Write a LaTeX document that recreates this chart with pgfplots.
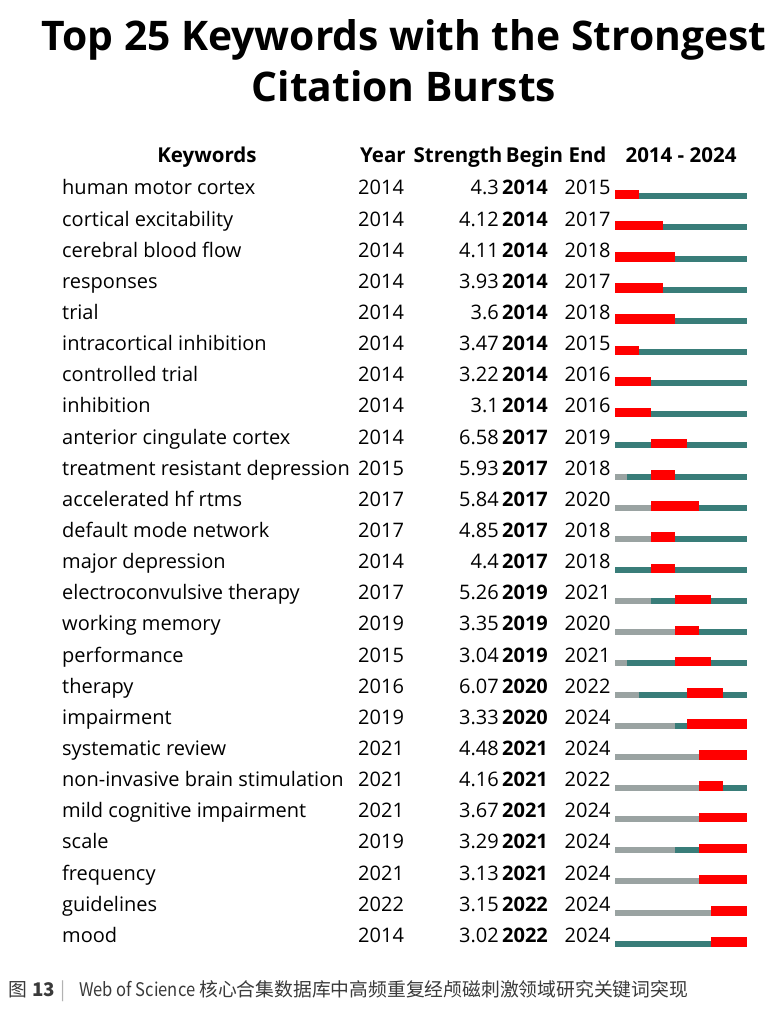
\documentclass[border=0pt]{standalone}
\usepackage{fontspec}
\setmainfont{Open Sans}
\newfontfamily\cjk{Noto Sans CJK SC}
\newfontfamily\cjknarrow[FakeStretch=0.88]{Noto Sans CJK SC}
\usepackage{pgfplots}
\usepackage{pgfplotstable}
\pgfplotsset{compat=1.18}

\definecolor{burstred}{HTML}{FF0000}
\definecolor{bteal}{HTML}{397D79}
\definecolor{bgray}{HTML}{9AA3A2}
\definecolor{captxt}{HTML}{3A3A3A}

% keyword, first year, burst strength, burst begin, burst end
\pgfplotstableread[col sep=comma]{
kw,year,strength,begin,end
human motor cortex,2014,4.3,2014,2015
cortical excitability,2014,4.12,2014,2017
cerebral blood flow,2014,4.11,2014,2018
responses,2014,3.93,2014,2017
trial,2014,3.6,2014,2018
intracortical inhibition,2014,3.47,2014,2015
controlled trial,2014,3.22,2014,2016
inhibition,2014,3.1,2014,2016
anterior cingulate cortex,2014,6.58,2017,2019
treatment resistant depression,2015,5.93,2017,2018
accelerated hf rtms,2017,5.84,2017,2020
default mode network,2017,4.85,2017,2018
major depression,2014,4.4,2017,2018
electroconvulsive therapy,2017,5.26,2019,2021
working memory,2019,3.35,2019,2020
performance,2015,3.04,2019,2021
therapy,2016,6.07,2020,2022
impairment,2019,3.33,2020,2024
systematic review,2021,4.48,2021,2024
non-invasive brain stimulation,2021,4.16,2021,2022
mild cognitive impairment,2021,3.67,2021,2024
scale,2019,3.29,2021,2024
frequency,2021,3.13,2021,2024
guidelines,2022,3.15,2022,2024
mood,2014,3.02,2022,2024
}\bursts

\pgfplotsset{
  coltext/.style={draw=none, mark=none, nodes near coords,
    point meta=explicit symbolic,
    every node near coord/.append style={inner sep=0pt, text=black,
      font=\fontsize{20}{24}\selectfont, yshift=1.3pt, #1}},
}

\begin{document}
\begin{tikzpicture}
% page frame in pixel units
\begin{axis}[at={(0,0)}, anchor=south west, width=779pt, height=1016pt,
  scale only axis, xmin=0, xmax=779, ymin=0, ymax=1016, y dir=reverse,
  hide axis, clip=false]
\fill[white] (axis cs:0,0) rectangle (axis cs:779,1016);
\node[anchor=base, font=\fontsize{40.8}{48}\selectfont\bfseries] at (axis cs:404,50.7)
  {Top 25 Keywords with the Strongest};
\node[anchor=base, font=\fontsize{40.8}{48}\selectfont\bfseries] at (axis cs:404,101.7)
  {Citation Bursts};
\begin{scope}[every node/.style={anchor=base west, inner sep=0pt, text=captxt}]
\node[font=\fontsize{18.8}{22}\selectfont\cjk] at (axis cs:8,996) {图};
\node[font=\fontsize{18.8}{22}\selectfont\cjk\bfseries] at (axis cs:32,996) {13};
\node[anchor=base, text=gray!60, font=\fontsize{18.8}{22}\selectfont\cjk] at (axis cs:63,996) {|};
\node[font=\fontsize{18.8}{22}\selectfont\cjknarrow] at (axis cs:79,996) {Web of Science};
\node[font=\fontsize{18.8}{22}\selectfont\cjk] at (axis cs:199,996)
  {核心合集数据库中高频重复经颅磁刺激领域研究关键词突现};
\end{scope}
\end{axis}

% burst bars and table columns
\begin{axis}[at={(615pt,819.7pt)}, anchor=north west, width=132.3pt, height=747.4pt,
  scale only axis, xmin=2014, xmax=2025, ymin=1, ymax=25, y dir=reverse,
  hide axis, clip=false]
\addplot[bteal, line width=6pt, quiver={u=11, v=0,
    every arrow/.append style={-, line width=6pt, line cap=butt}}]
  table[x expr=2014, y expr=\coordindex+1] {\bursts};
\addplot[bgray, line width=6pt, quiver={u=\thisrow{year}-2014, v=0,
    every arrow/.append style={-, line width=6pt, line cap=butt}}]
  table[x expr=2014, y expr=\coordindex+1] {\bursts};
\addplot[burstred, line width=9.5pt, quiver={u=\thisrow{end}+1-\thisrow{begin}, v=0,
    every arrow/.append style={-, line width=9.5pt, line cap=butt}}]
  table[x=begin, y expr=\coordindex+1-0.0562] {\bursts};

\addplot[coltext={anchor=base west, xshift=-553pt}]
  table[x expr=2014, y expr=\coordindex+1, meta=kw] {\bursts};
\addplot[coltext={anchor=base west, xshift=-257pt}]
  table[x expr=2014, y expr=\coordindex+1, meta=year] {\bursts};
\addplot[coltext={anchor=base east, xshift=-116pt}]
  table[x expr=2014, y expr=\coordindex+1, meta=strength] {\bursts};
\addplot[coltext={anchor=base west, xshift=-113pt}, nodes near coords={\textbf{\pgfplotspointmeta}}]
  table[x expr=2014, y expr=\coordindex+1, meta=begin] {\bursts};
\addplot[coltext={anchor=base west, xshift=-50.5pt}]
  table[x expr=2014, y expr=\coordindex+1, meta=end] {\bursts};

\begin{scope}[every node/.style={inner sep=0pt, font=\fontsize{20.5}{24}\selectfont\bfseries, anchor=base, yshift=2.9pt}]
\node[xshift=-408pt] at (axis cs:2014,0) {Keywords};
\node[anchor=base west, xshift=-255pt] at (axis cs:2014,0) {Year};
\node[xshift=-157pt] at (axis cs:2014,0) {Strength};
\node[xshift=-80.5pt] at (axis cs:2014,0) {Begin};
\node[xshift=-27.5pt] at (axis cs:2014,0) {End};
\node[xshift=66pt] at (axis cs:2014,0) {2014 - 2024};
\end{scope}
\end{axis}
\end{tikzpicture}
\end{document}
